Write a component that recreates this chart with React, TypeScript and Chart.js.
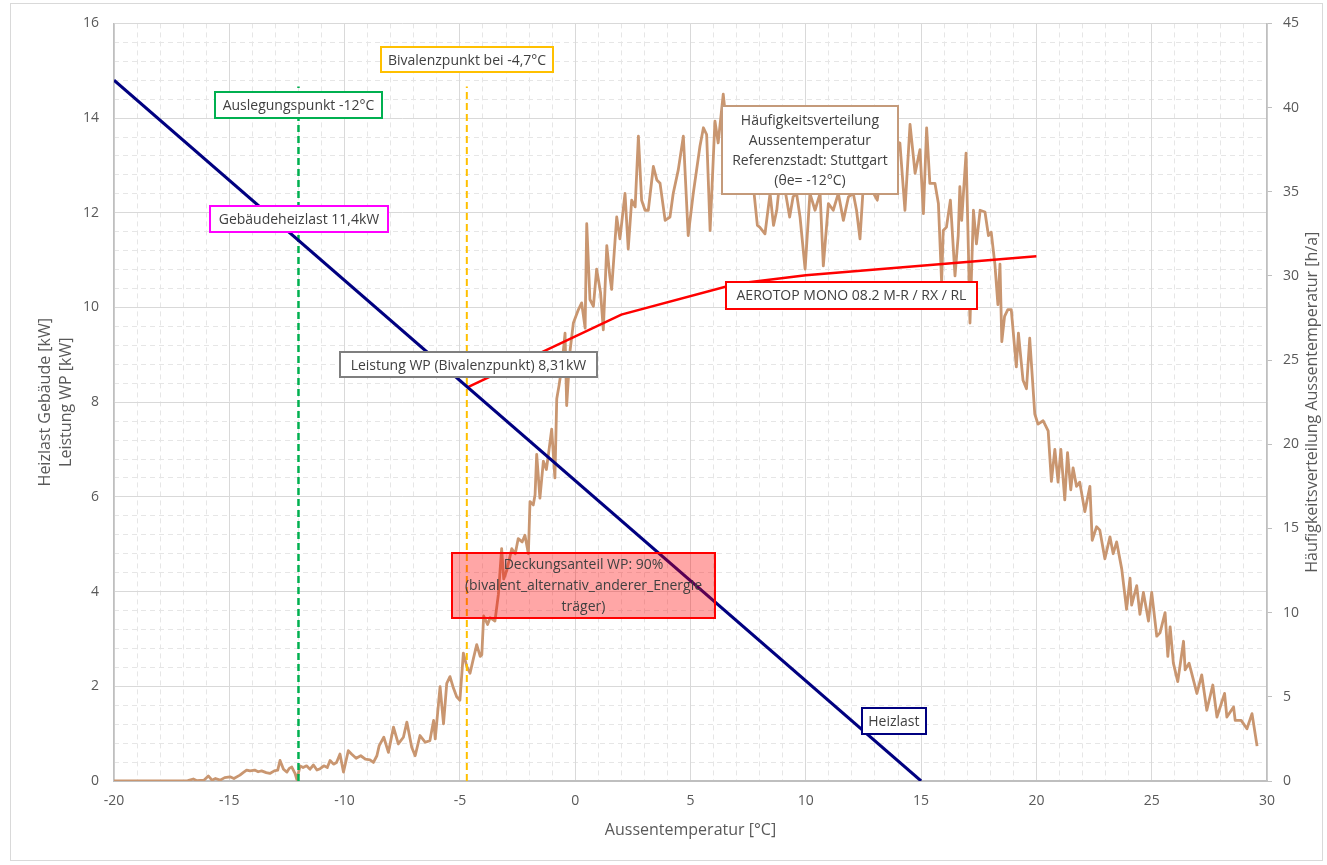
import React, { useEffect, useRef } from 'react';
import { Chart, registerables } from 'chart.js';

Chart.register(...registerables);

// ---------- data ----------
const heizlastTemps = [-20, 15];
const heizlastKW = [14.8, 0];

const wpTemps = [-4.7, 2, 7, 10, 20];
const wpKW = [8.31, 9.85, 10.5, 10.68, 11.08];

const auslegungTemp = -12;
const bivalenzTemp = -4.7;
const markerKW = [0, 14.67];

const freqTemps = [
  -20, -19, -18, -17.2, -16.8, -16.56, -16.4, -16.1, -15.91, -15.75, -15.6, -15.4, -15.2, -14.97, -14.8,
  -14.54, -14.4, -14.25, -14.1, -13.9, -13.75, -13.6, -13.4, -13.24, -13.05, -12.9, -12.8, -12.65, -12.5,
  -12.4, -12.29, -12.15, -12.07, -11.93, -11.8, -11.65, -11.5, -11.35, -11.2, -11.06, -10.9, -10.75, -10.63,
  -10.48, -10.35, -10.2, -10.05, -9.84, -9.7, -9.5, -9.3, -9.1, -8.9, -8.75, -8.6, -8.5, -8.3, -8.1, -7.88,
  -7.67, -7.45, -7.3, -7.09, -6.94, -6.73, -6.5, -6.3, -6.14, -6.07, -5.86, -5.71, -5.57, -5.43, -5.3, -5.14,
  -5.0, -4.85, -4.7, -4.56, -4.41, -4.27, -4.12, -4.05, -3.97, -3.8, -3.69, -3.48, -3.33, -3.19, -3.1, -2.97,
  -2.85, -2.75, -2.6, -2.47, -2.3, -2.18, -2.03, -1.96, -1.82, -1.74, -1.67, -1.53, -1.38, -1.25, -1.16, -1.02,
  -0.88, -0.8, -0.7, -0.59, -0.44, -0.37, -0.22, -0.08, 0.14, 0.28, 0.43, 0.5, 0.64, 0.79, 0.93, 1.1, 1.22,
  1.37, 1.5, 1.58, 1.8, 1.94, 2.16, 2.3, 2.45, 2.6, 2.74, 2.88, 3.03, 3.17, 3.39, 3.54, 3.68, 3.9, 4.11, 4.25,
  4.47, 4.69, 4.9, 5.12, 5.41, 5.56, 5.7, 5.85, 6.06, 6.2, 6.42, 6.57, 6.8, 7.0, 7.3, 7.6, 7.9, 8.0, 8.23,
  8.45, 8.6, 8.74, 8.9, 9.1, 9.3, 9.45, 9.6, 9.75, 9.97, 10.18, 10.4, 10.62, 10.76, 10.98, 11.19, 11.41,
  11.63, 11.85, 12.06, 12.2, 12.35, 12.5, 12.7, 12.9, 13.1, 13.3, 13.5, 13.7, 13.9, 14.08, 14.3, 14.52, 14.74,
  14.95, 15.1, 15.24, 15.38, 15.6, 15.75, 15.89, 15.96, 16.1, 16.27, 16.47, 16.61, 16.68, 16.76, 16.95, 17.05,
  17.12, 17.27, 17.4, 17.56, 17.77, 17.92, 18.04, 18.2, 18.33, 18.42, 18.5, 18.62, 18.76, 18.91, 19.13, 19.22,
  19.42, 19.57, 19.71, 19.93, 20.07, 20.29, 20.51, 20.65, 20.8, 20.94, 21.06, 21.23, 21.35, 21.49, 21.59,
  21.74, 21.88, 22.1, 22.32, 22.42, 22.61, 22.75, 22.97, 23.19, 23.33, 23.48, 23.7, 23.91, 24.06, 24.13,
  24.35, 24.49, 24.64, 24.86, 25.0, 25.22, 25.36, 25.58, 25.7, 25.8, 25.94, 26.13, 26.38, 26.45, 26.62,
  26.96, 27.17, 27.39, 27.65, 27.83, 28.16, 28.26, 28.55, 28.62, 28.88, 29.13, 29.35, 29.57,
];
const freqHours = [
  0, 0, 0, 0, 0.02, 0.12, 0.02, 0.05, 0.3, 0.05, 0.15, 0.05, 0.2, 0.25, 0.15,
  0.35, 0.5, 0.65, 0.6, 0.65, 0.55, 0.6, 0.5, 0.45, 0.6, 0.65, 1.22, 0.7, 0.53,
  0.75, 0.83, 0.45, 0.08, 0.9, 0.8, 0.9, 0.7, 0.95, 0.65, 0.73, 0.9, 0.8, 1.22,
  1.0, 1.1, 1.6, 0.53, 1.8, 1.6, 1.35, 1.5, 1.3, 1.25, 1.1, 1.5, 2.1, 2.6, 1.7, 3.2,
  2.2, 2.6, 3.5, 2.0, 1.5, 2.7, 2.3, 2.4, 3.6, 2.5, 5.6, 3.4, 5.8, 6.2, 5.6, 5.0,
  4.8, 7.6, 6.8, 6.4, 7.3, 8.1, 7.4, 7.5, 9.8, 9.3, 9.7, 9.5, 11.1, 13.8, 12.0, 12.5,
  13.2, 13.8, 13.5, 14.4, 14.2, 14.6, 13.5, 16.6, 16.4, 17.0, 19.4, 16.8, 19.0, 18.5, 19.4, 20.9,
  18.0, 22.7, 23.5, 24.5, 26.6, 22.3, 25.6, 27.2, 28.0, 28.4, 26.9, 33.1, 28.6, 28.2, 30.4, 29.0, 26.8,
  31.8, 30.0, 29.2, 33.5, 32.2, 34.9, 31.6, 34.5, 34.1, 38.3, 34.5, 33.9, 33.9, 36.5, 35.7, 35.5, 33.3, 33.5, 34.9,
  36.3, 38.3, 32.4, 34.9, 37.7, 38.8, 38.4, 32.7, 39.2, 37.9, 40.8, 38.8, 37.5, 38.5, 36.5, 37.0, 33.0, 32.9, 32.5,
  34.9, 33.0, 33.9, 36.0, 35.1, 33.5, 34.7, 34.9, 33.5, 30.4, 34.9, 33.9, 34.9, 30.6, 34.3, 33.9, 34.9,
  33.3, 34.7, 34.9, 33.9, 32.2, 35.5, 36.5, 35.0, 34.5, 36.5, 37.5, 36.0, 38.0, 37.9, 33.9, 39.0, 36.1,
  37.5, 33.7, 38.8, 35.5, 35.5, 34.3, 29.6, 32.7, 32.9, 34.5, 30.0, 32.4, 35.3, 33.3, 37.3, 31.6,
  27.2, 33.9, 31.9, 33.9, 33.8, 32.4, 32.6, 30.7, 28.3, 30.7, 26.1, 27.6, 28.0, 28.0, 24.6, 26.6,
  23.8, 23.3, 26.3, 21.8, 21.2, 21.4, 20.8, 17.8, 19.7, 17.75, 19.7, 16.7, 19.5, 17.3, 18.6,
  17.5, 17.75, 16.0, 17.5, 14.3, 15.1, 14.9, 13.2, 14.5, 13.5, 14.2, 12.6, 10.2, 12.05, 10.45,
  11.6, 9.9, 11.2, 9.5, 11.2, 8.6, 8.8, 10.0, 7.4, 9.15, 7.0, 5.9, 8.3, 6.6, 7.0,
  5.2, 6.3, 4.2, 5.7, 3.8, 5.2, 3.8, 4.4, 3.6, 3.6, 3.1, 4.0, 2.07,
];

const xTickStep = 5;
const yTickStep = 2;
const y2TickStep = 5;

// ---------- annotations (text labels) ----------
type Note = { lines: string[]; x: number; y: number; w: number; h: number; border: string; fill: string };
const notes: Note[] = [
  { lines: ['Bivalenzpunkt bei -4,7°C'], x: -4.69, y: 15.23, w: 172, h: 25, border: '#FFC000', fill: '#FFFFFF' },
  { lines: ['Auslegungspunkt -12°C'], x: -12.0, y: 14.28, w: 167, h: 26, border: '#00B050', fill: '#FFFFFF' },
  { lines: ['Gebäudeheizlast 11,4kW'], x: -11.98, y: 11.86, w: 178, h: 26, border: '#FF00FF', fill: '#FFFFFF' },
  { lines: ['Leistung WP (Bivalenzpunkt) 8,31kW'], x: -4.63, y: 8.79, w: 257, h: 25, border: '#7F7F7F', fill: '#FFFFFF' },
  {
    lines: ['Häufigkeitsverteilung', 'Aussentemperatur', 'Referenzstadt: Stuttgart', '(θe= -12°C)'],
    x: 10.18, y: 13.33, w: 176, h: 88, border: '#C49A7A', fill: '#FFFFFF',
  },
  { lines: ['AEROTOP MONO 08.2 M-R / RX / RL'], x: 11.98, y: 10.26, w: 251, h: 27, border: '#FF0000', fill: '#FFFFFF' },
  {
    lines: ['Deckungsanteil WP: 90%', '(bivalent_alternativ_anderer_Energie', 'träger)'],
    x: 0.36, y: 4.13, w: 263, h: 65, border: '#FF0000', fill: 'rgba(255,0,0,0.35)',
  },
  { lines: ['Heizlast'], x: 13.82, y: 1.26, w: 64, h: 26, border: '#000080', fill: '#FFFFFF' },
];

const FONT = '"Open Sans", "Noto Sans", sans-serif';
const TEXT = '#595959';

const isMult = (v: number, m: number) => Math.abs(v / m - Math.round(v / m)) < 1e-6;

const notesPlugin = {
  id: 'notes',
  beforeDraw(chart: any) {
    const ctx = chart.ctx;
    ctx.save();
    ctx.strokeStyle = '#D9D9D9';
    ctx.lineWidth = 1;
    ctx.strokeRect(10.5, 3.5, 1312, 857);
    ctx.restore();
  },
  afterDatasetsDraw(chart: any) {
    const { ctx, scales } = chart;
    ctx.save();
    for (const n of notes) {
      const cx = scales.x.getPixelForValue(n.x);
      const cy = scales.y.getPixelForValue(n.y);
      const l = Math.round(cx - n.w / 2);
      const t = Math.round(cy - n.h / 2);
      ctx.fillStyle = n.fill;
      ctx.fillRect(l, t, n.w, n.h);
      ctx.lineWidth = 2;
      ctx.strokeStyle = n.border;
      ctx.strokeRect(l, t, n.w, n.h);
      ctx.fillStyle = '#404040';
      ctx.font = `14px ${FONT}`;
      ctx.textAlign = 'center';
      ctx.textBaseline = 'middle';
      const lh = n.lines.length > 3 ? 20 : 21;
      n.lines.forEach((s, i) => {
        ctx.fillText(s, cx, cy + (i - (n.lines.length - 1) / 2) * lh + 1);
      });
    }
    ctx.restore();
  },
  afterDraw(chart: any) {
    const ctx = chart.ctx;
    const area = chart.chartArea;
    ctx.save();
    ctx.translate(1312, (area.top + area.bottom) / 2);
    ctx.rotate(-Math.PI / 2);
    ctx.fillStyle = TEXT;
    ctx.font = `16px ${FONT}`;
    ctx.textAlign = 'center';
    ctx.textBaseline = 'middle';
    ctx.fillText('Häufigkeitsverteilung Aussentemperatur [h/a]', 0, 0);
    ctx.restore();
  },
};

export default function App() {
  const ref = useRef<HTMLCanvasElement>(null);

  useEffect(() => {
    if (!ref.current) return;
    Chart.defaults.font.family = FONT;
    Chart.defaults.color = TEXT;

    const pts = (xs: number[], ys: number[]) => xs.map((x, i) => ({ x, y: ys[i] }));

    const chart = new Chart(ref.current, {
      type: 'line',
      data: {
        datasets: [
          {
            label: 'Heizlast',
            data: pts(heizlastTemps, heizlastKW),
            borderColor: '#000080',
            borderWidth: 3,
            pointRadius: 0,
            xAxisID: 'x',
            yAxisID: 'y',
            order: 1,
          },
          {
            label: 'Auslegungspunkt',
            data: pts([auslegungTemp, auslegungTemp], markerKW),
            borderColor: '#00B050',
            borderWidth: 2.5,
            borderDash: [7, 4],
            pointRadius: 0,
            xAxisID: 'x',
            yAxisID: 'y',
            order: 2,
          },
          {
            label: 'Bivalenzpunkt',
            data: pts([bivalenzTemp, bivalenzTemp], markerKW),
            borderColor: '#FFC000',
            borderWidth: 2,
            borderDash: [7, 4],
            pointRadius: 0,
            xAxisID: 'x',
            yAxisID: 'y',
            order: 2,
          },
          {
            label: 'AEROTOP MONO 08.2 M-R / RX / RL',
            data: pts(wpTemps, wpKW),
            borderColor: '#FF0000',
            borderWidth: 2.5,
            pointRadius: 0,
            xAxisID: 'x',
            yAxisID: 'y',
            order: 3,
          },
          {
            label: 'Häufigkeitsverteilung',
            data: pts(freqTemps, freqHours),
            borderColor: '#C99670',
            borderWidth: 2.8,
            borderJoinStyle: 'round',
            pointRadius: 0,
            xAxisID: 'x',
            yAxisID: 'y2',
            order: 4,
          },
        ],
      },
      options: {
        responsive: false,
        animation: false,
        devicePixelRatio: 1,
        layout: { padding: { top: 19, left: 0, right: 0, bottom: 0 } },
        plugins: {
          legend: { display: false },
          tooltip: { enabled: false },
        },
        scales: {
          xm: {
            type: 'linear',
            position: 'bottom',
            min: -20,
            max: 30,
            ticks: { display: false, stepSize: 1, autoSkip: false },
            grid: {
              drawTicks: false,
              lineWidth: 1,
              color: (c: any) => (isMult(c.tick.value, xTickStep) ? 'rgba(0,0,0,0)' : '#E6E6E6'),
            },
            border: { display: false, dash: [5, 4] },
            afterFit: (s: any) => { s.height = 0; },
          },
          ym: {
            type: 'linear',
            position: 'left',
            min: 0,
            max: 16,
            ticks: { display: false, stepSize: 0.4, autoSkip: false },
            grid: {
              drawTicks: false,
              lineWidth: 1,
              color: (c: any) => (isMult(c.tick.value, yTickStep) ? 'rgba(0,0,0,0)' : '#E6E6E6'),
            },
            border: { display: false, dash: [5, 4] },
            afterFit: (s: any) => { s.width = 0; },
          },
          x: {
            type: 'linear',
            position: 'bottom',
            min: -20,
            max: 30,
            ticks: { stepSize: xTickStep, padding: 12, color: TEXT, font: { size: 14 } },
            grid: { drawTicks: false, color: '#D9D9D9', lineWidth: 1 },
            border: { color: '#BFBFBF', width: 2 },
            title: {
              display: true,
              text: 'Aussentemperatur [°C]',
              color: TEXT,
              font: { size: 16, lineHeight: 1.25 },
              padding: { top: 0, bottom: 25 },
            },
            afterFit: (s: any) => { s.height = 84; },
          },
          y: {
            type: 'linear',
            position: 'left',
            min: 0,
            max: 16,
            ticks: { stepSize: yTickStep, padding: 15, color: TEXT, font: { size: 14 } },
            grid: { drawTicks: false, color: '#D9D9D9', lineWidth: 1 },
            border: { color: '#BFBFBF', width: 1.5 },
            title: {
              display: true,
              text: ['Heizlast Gebäude [kW]', 'Leistung WP [kW]'],
              color: TEXT,
              font: { size: 16, lineHeight: 1.32 },
              padding: { top: 35, bottom: 0 },
            },
            afterFit: (s: any) => { s.width = 114; },
          },
          y2: {
            type: 'linear',
            position: 'right',
            min: 0,
            max: 45,
            ticks: { stepSize: y2TickStep, padding: 11, color: TEXT, font: { size: 14 } },
            grid: { drawOnChartArea: false, drawTicks: true, tickLength: 5, tickColor: '#BFBFBF', color: '#BFBFBF' },
            border: { color: '#BFBFBF', width: 1.5 },
            afterFit: (s: any) => { s.width = 60; },
          },
        },
      } as any,
      plugins: [notesPlugin],
    });
    return () => chart.destroy();
  }, []);

  return (
    <div style={{ position: 'absolute', left: 0, top: 0, width: 1327, height: 865, background: '#FFFFFF' }}>
      <canvas ref={ref} width={1327} height={865} style={{ display: 'block' }} />
    </div>
  );
}
